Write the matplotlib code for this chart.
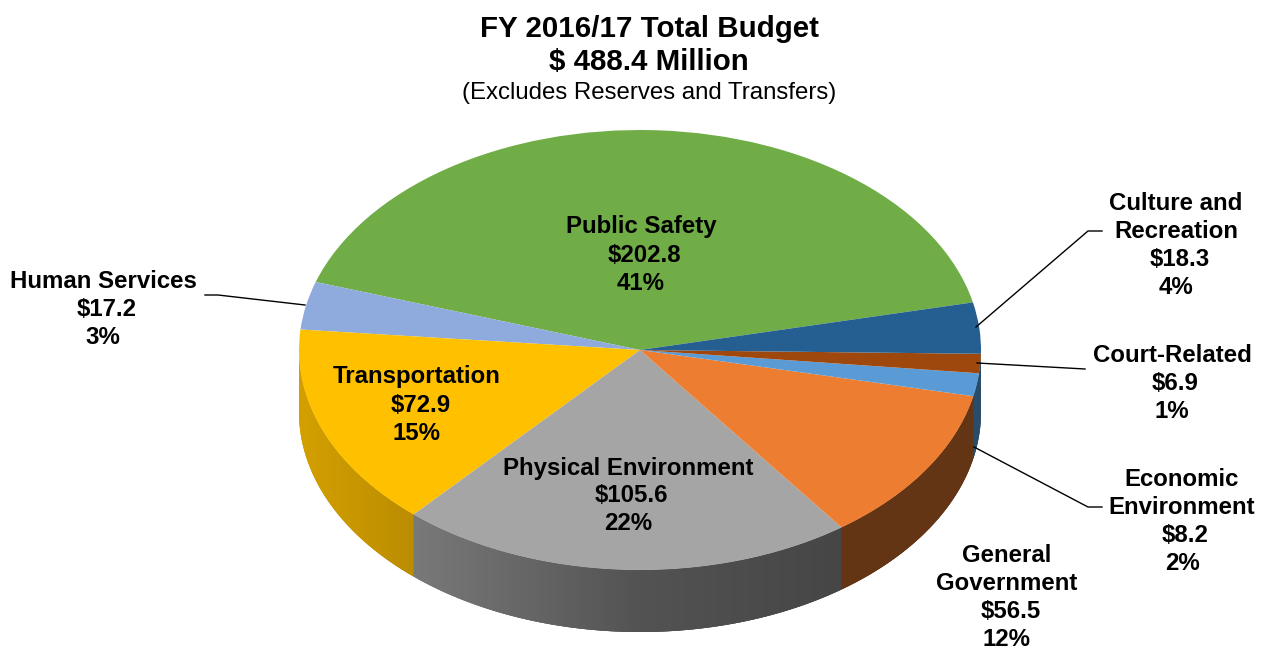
import numpy as np
from matplotlib import pyplot as plt
from matplotlib.collections import PolyCollection
from matplotlib.colors import to_rgb

plt.rcParams['font.family'] = ['Liberation Sans', 'DejaVu Sans']

names = ['Public Safety', 'Human Services', 'Transportation', 'Physical Environment',
         'General\nGovernment', 'Economic\nEnvironment', 'Court-Related', 'Culture and\nRecreation']
values = [202.8, 17.2, 72.9, 105.6, 56.5, 8.2, 6.9, 18.3]
percents = [41, 3, 15, 22, 12, 2, 1, 4]
colors = ['#70AD47', '#8FAADC', '#FFC000', '#A5A5A5', '#ED7D31', '#5B9BD5', '#9E480E', '#255E91']
# the narrow wall on the far right reads as one dark blue
wall_colors = ['#70AD47', '#8FAADC', '#FFC000', '#A5A5A5', '#ED7D31', '#64B4FF', '#64B4FF', '#64B4FF']

WIDTH, HEIGHT = 1267, 650
CX, CY = 640, 350  # pie centre, pixels
RX, RY = 341, 220
DEPTH = 62 / RY
START = 12.5

# label centres and leader lines, pixels
label_pos = [(641, 255), (103, 310), (417, 405), (628, 496),
             (1007, 598), (1182, 522), (1172, 383), (1176, 245.5)]
leaders = [
    [(205, 295), (218, 295), (305, 305)],
    [(976, 327), (1088, 231), (1102, 231)],
    [(977, 363), (1085, 369)],
    [(974, 447), (1088, 507), (1102, 507)],
]


def wall_shade(x):
    # darker toward the right, x in pie units
    return np.interp(x, [-1, -0.66, 0, 0.6, 1], [0.83, 0.73, 0.5, 0.42, 0.42])


fig = plt.figure(figsize=(WIDTH / 100, HEIGHT / 100), dpi=100, facecolor='white')
ax = fig.add_axes([0, 0, 1, 1])

ax.pie(values, colors=colors, startangle=START, counterclock=True, radius=1,
       wedgeprops={'linewidth': 0})
ax.set_aspect('auto')
ax.set_xlim(-CX / RX, (WIDTH - CX) / RX)
ax.set_ylim((CY - HEIGHT) / RY, CY / RY)

# side wall of the slices that face the viewer, left to right
edges = START + np.cumsum([0] + values) / sum(values) * 360
polys = []
poly_colors = []
for i, color in enumerate(wall_colors):
    for shift in (0, 360):
        lo = max(edges[i] + shift, 180)
        hi = min(edges[i + 1] + shift, 360)
        if hi <= lo:
            continue
        steps = np.linspace(lo, hi, max(2, int((hi - lo) * 2) + 1))
        for a, b in zip(steps[:-1], steps[1:]):
            # each strip runs under the next one so no seams show
            ts = np.radians(np.linspace(a, min(b + 1, 360), 4))
            xs, ys = np.cos(ts), np.sin(ts)
            polys.append(list(zip(xs, ys)) + list(zip(xs[::-1], ys[::-1] - DEPTH)))
            shade = wall_shade(np.cos(np.radians((a + b) / 2)))
            poly_colors.append(tuple(c * shade for c in to_rgb(color)))
walls = PolyCollection(polys, facecolors=poly_colors, edgecolors='none', zorder=0)
ax.add_collection(walls)

# text and leader lines in pixel coordinates
top = fig.add_axes([0, 0, 1, 1])
top.set_xlim(0, WIDTH)
top.set_ylim(HEIGHT, 0)
top.axis('off')

top.text(649, 29, 'FY 2016/17 Total Budget', fontsize=21.25, fontweight='bold', ha='center', va='center')
top.text(649, 62, '$ 488.4 Million', fontsize=21.25, fontweight='bold', ha='center', va='center')
top.text(649, 93, '(Excludes Reserves and Transfers)', fontsize=17.3, ha='center', va='center')

for name, value, pct, (x, y) in zip(names, values, percents, label_pos):
    lines = name.split('\n') + ['$%.1f' % value, '%d%%' % pct]
    offsets = (np.arange(len(lines)) - (len(lines) - 1) / 2) * 28
    for j, (line, off) in enumerate(zip(lines, offsets)):
        nudge = 3.5 if j == len(lines) - 2 else 0  # dollar lines sit a little right
        top.text(x + nudge, y + off, line, fontsize=17.25, fontweight='bold', ha='center', va='center')

for pts in leaders:
    xs, ys = zip(*pts)
    top.plot(xs, ys, color='black', linewidth=1)

fig.savefig('out.png', dpi=100)
